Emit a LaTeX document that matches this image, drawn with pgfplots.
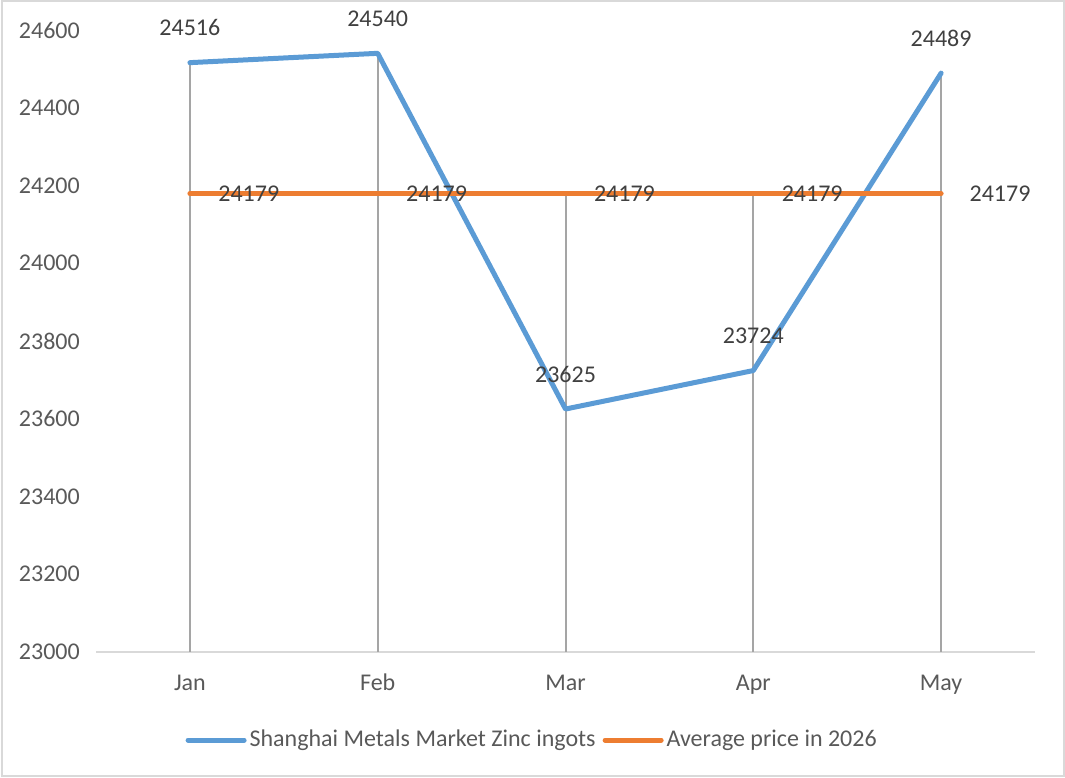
\documentclass[border=0pt]{standalone}
\usepackage{fontspec}
\setmainfont{Carlito}
\usepackage{pgfplots}
\pgfplotsset{compat=1.18}
\definecolor{zblue}{HTML}{5B9BD5}
\definecolor{zorange}{HTML}{ED7D31}
\definecolor{lbl}{HTML}{595959}
\definecolor{dlbl}{HTML}{404040}
\definecolor{framec}{HTML}{D9D9D9}
\definecolor{dropc}{HTML}{A5A5A5}
\newcommand\cfont{\fontsize{24pt}{28pt}\selectfont}
\begin{document}
\cfont
\begin{tikzpicture}[x=1pt,y=1pt]
\path[use as bounding box] (0,0) rectangle (1065,778);
\draw[framec, line width=2pt] (1.5,1.5) rectangle (1063.5,776.5);
\begin{axis}[
  at={(96pt,126pt)}, anchor=south west,
  scale only axis, width=939pt, height=622pt,
  xmin=-0.5, xmax=4.5, ymin=23000, ymax=24600,
  axis lines*=left,
  y axis line style={draw=none},
  x axis line style={framec, line width=2pt, -},
  major tick length=0pt,
  xtick={0,1,2,3,4}, xticklabels={Jan,Feb,Mar,Apr,May},
  ytick={23000,23200,...,24600},
  scaled y ticks=false,
  yticklabel={\pgfmathprintnumber[fixed,precision=0,1000 sep={},assume math mode=true]{\tick}},
  /pgf/number format/assume math mode=true,
  /pgf/number format/1000 sep={},
  tick label style={font=\cfont, text=lbl},
  yticklabel style={anchor=east, inner sep=0pt, xshift=-16pt},
  xticklabel style={anchor=base, inner sep=0pt, yshift=-39pt},
  clip=false,
  legend columns=2,
  legend style={draw=none, fill=none, at={(rel axis cs:0.465,-0.1415)}, anchor=center,
    font=\cfont, text=lbl,
    nodes={inner sep=3pt},
    /tikz/every even column/.append style={column sep=4pt}},
  legend image code/.code={\draw[#1, line width=5pt, line cap=round] (0pt,0pt) -- (56pt,0pt);},
]
% drop lines
\addplot[ycomb, dropc, line width=2pt, forget plot] coordinates {
  (0,24516) (1,24540) (2,24179) (3,24179) (4,24489)};
\addplot[zblue, line width=5pt, line cap=round, line join=round,
  nodes near coords={\pgfmathprintnumber[fixed,precision=0,1000 sep={}]{\pgfplotspointmeta}},
  every node near coord/.append style={anchor=south, inner sep=0pt, yshift=24pt,
    font=\cfont, text=dlbl}]
  coordinates {(0,24516) (1,24540) (2,23625) (3,23724) (4,24489)};
\addlegendentry{Shanghai Metals Market Zinc ingots}
\addplot[zorange, line width=5pt, line cap=round, line join=round,
  nodes near coords={\pgfmathprintnumber[fixed,precision=0,1000 sep={}]{\pgfplotspointmeta}},
  every node near coord/.append style={anchor=west, inner sep=0pt, xshift=26pt,
    font=\cfont, text=dlbl}]
  coordinates {(0,24179) (1,24179) (2,24179) (3,24179) (4,24179)};
\addlegendentry{Average price in 2026}
\end{axis}
\end{tikzpicture}
\end{document}
